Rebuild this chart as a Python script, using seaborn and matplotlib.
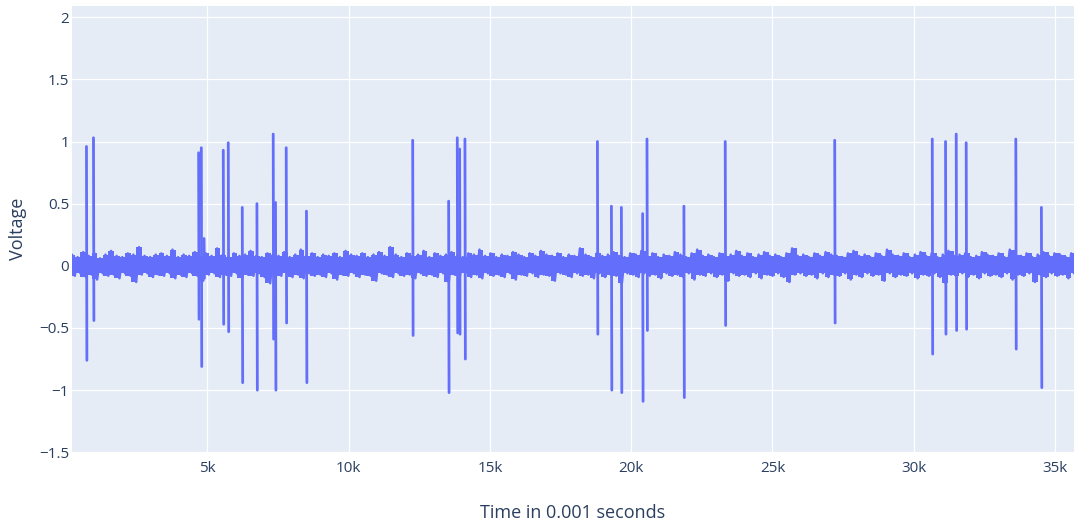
import numpy as np
import pandas as pd
import matplotlib
matplotlib.use("Agg")
import matplotlib.pyplot as plt
import seaborn as sns
from matplotlib.ticker import FuncFormatter

# time window of the recording (in 0.001 s)
T_START = 212
T_END = 35670

# baseline noise, alternating peaks and troughs
noise_hi = [
    0.09, 0.07, 0.11, 0.08, 0.10, 0.06, 0.09, 0.12, 0.08, 0.07, 0.10, 0.09, 0.15, 0.08, 0.07,
    0.09, 0.10, 0.08, 0.13, 0.07, 0.09, 0.08, 0.11, 0.07, 0.10, 0.08, 0.14, 0.09, 0.07, 0.10,
    0.08, 0.09, 0.12, 0.08, 0.07, 0.10, 0.09, 0.08, 0.11, 0.07, 0.09, 0.13, 0.08, 0.10, 0.07,
    0.09, 0.08, 0.10, 0.07, 0.12, 0.09, 0.08, 0.10, 0.07, 0.09, 0.11, 0.08, 0.15, 0.09, 0.07,
    0.10, 0.08, 0.09, 0.12, 0.07, 0.10, 0.08, 0.09, 0.11, 0.08, 0.07, 0.10, 0.09, 0.13, 0.08,
    0.10, 0.07, 0.09, 0.08, 0.11, 0.09, 0.07, 0.10, 0.08, 0.12, 0.09, 0.08, 0.10, 0.07, 0.09,
    0.08, 0.14, 0.09, 0.07, 0.10, 0.08, 0.09, 0.11, 0.08, 0.07, 0.10, 0.09, 0.12, 0.08, 0.10,
    0.07, 0.09, 0.08, 0.11, 0.09, 0.07, 0.10, 0.13, 0.08, 0.09, 0.07, 0.10, 0.08, 0.09, 0.12,
    0.08, 0.10, 0.07, 0.09, 0.11, 0.08, 0.09, 0.07, 0.10, 0.14, 0.08, 0.09, 0.07, 0.10, 0.08,
    0.11, 0.09, 0.08, 0.07, 0.10, 0.12, 0.08, 0.09, 0.07, 0.10, 0.08, 0.13, 0.09, 0.08, 0.10,
    0.07, 0.09, 0.11, 0.08, 0.10, 0.07, 0.09, 0.12, 0.08, 0.09, 0.10, 0.07, 0.08, 0.11, 0.09,
    0.08, 0.10, 0.07, 0.13, 0.09, 0.08, 0.10, 0.07, 0.09, 0.11, 0.08, 0.10, 0.09, 0.07, 0.10,
]
noise_lo = [
    -0.08, -0.06, -0.09, -0.07, -0.11, -0.06, -0.08, -0.07, -0.10, -0.06, -0.08, -0.13, -0.07, -0.06, -0.09,
    -0.07, -0.08, -0.06, -0.10, -0.07, -0.09, -0.06, -0.08, -0.12, -0.07, -0.06, -0.09, -0.07, -0.08, -0.06,
    -0.10, -0.07, -0.08, -0.06, -0.09, -0.14, -0.07, -0.08, -0.06, -0.09, -0.07, -0.10, -0.06, -0.08, -0.07,
    -0.09, -0.06, -0.11, -0.07, -0.08, -0.06, -0.09, -0.07, -0.08, -0.12, -0.06, -0.07, -0.09, -0.06, -0.08,
    -0.07, -0.10, -0.06, -0.08, -0.07, -0.09, -0.06, -0.13, -0.07, -0.08, -0.06, -0.09, -0.07, -0.10, -0.06,
    -0.08, -0.07, -0.09, -0.06, -0.11, -0.07, -0.08, -0.06, -0.09, -0.07, -0.08, -0.12, -0.06, -0.07, -0.09,
    -0.06, -0.08, -0.07, -0.10, -0.06, -0.09, -0.07, -0.08, -0.14, -0.06, -0.07, -0.09, -0.06, -0.08, -0.07,
    -0.10, -0.06, -0.08, -0.07, -0.09, -0.06, -0.11, -0.07, -0.08, -0.06, -0.09, -0.07, -0.12, -0.06, -0.08,
    -0.07, -0.09, -0.06, -0.10, -0.07, -0.08, -0.06, -0.09, -0.13, -0.07, -0.06, -0.08, -0.07, -0.10, -0.06,
    -0.09, -0.07, -0.08, -0.06, -0.11, -0.07, -0.09, -0.06, -0.08, -0.07, -0.12, -0.06, -0.09, -0.07, -0.08,
    -0.06, -0.10, -0.07, -0.08, -0.06, -0.09, -0.14, -0.07, -0.08, -0.06, -0.09, -0.07, -0.10, -0.06, -0.08,
    -0.07, -0.09, -0.06, -0.11, -0.07, -0.08, -0.06, -0.13, -0.07, -0.09, -0.06, -0.08, -0.07, -0.10, -0.06,
]

# spikes: time, positive peak, negative peak
spike_t = [724, 972, 4693, 4788, 4883, 5565, 5742, 6237, 6756, 7332, 7413, 7792, 8509,
           12268, 13540, 13846, 13929, 14117, 18805, 19300, 19653, 20406, 20559, 21866,
           23328, 27202, 30654, 31124, 31502, 31855, 33611, 34516]
spike_hi = [0.96, 1.03, 0.91, 0.95, 0.22, 0.93, 0.99, 0.47, 0.50, 1.06, 0.51, 0.95, 0.44,
            1.01, 0.52, 1.03, 0.94, 1.02, 1.00, 0.48, 0.47, 0.42, 1.02, 0.48,
            1.00, 1.01, 1.02, 1.00, 1.06, 0.99, 1.02, 0.47]
spike_lo = [-0.76, -0.44, -0.43, -0.81, -0.10, -0.47, -0.53, -0.94, -1.00, -0.59, -1.00, -0.46, -0.94,
            -0.56, -1.02, -0.54, -0.55, -0.75, -0.55, -1.00, -1.02, -1.09, -0.52, -1.06,
            -0.48, -0.46, -0.71, -0.55, -0.52, -0.51, -0.67, -0.98]

y_ticks = [-1.5, -1, -0.5, 0, 0.5, 1, 1.5, 2]
x_ticks = [5000, 10000, 15000, 20000, 25000, 30000, 35000]

BG = "#E5ECF6"
LINE = "#636EFA"
TEXT = "#2a3f5f"


def noise_frame():
    noise_v = [v for pair in zip(noise_hi, noise_lo) for v in pair]
    return pd.DataFrame({
        "time": np.linspace(T_START, T_END, len(noise_v)),
        "voltage": noise_v,
    })


def spike_frame():
    # each spike is a near-vertical swing from its peak to its trough
    return pd.DataFrame({
        "spike": list(range(len(spike_t))) * 2,
        "time": spike_t + [t + 15 for t in spike_t],
        "voltage": spike_hi + spike_lo,
    })


sns.set_style("darkgrid", {"axes.facecolor": BG, "grid.color": "white"})
plt.rcParams["font.family"] = ["Open Sans", "DejaVu Sans"]

fig = plt.figure(figsize=(10.74, 5.24), dpi=100)
ax = fig.add_axes([72 / 1074, 71.7 / 524, 1002 / 1074, 446.3 / 524])

# dense noise band: envelope of the baseline samples
band_t = np.linspace(T_START, T_END, len(noise_hi))
ax.fill_between(band_t, noise_lo, noise_hi, step="mid", color=LINE, linewidth=0)

sns.lineplot(data=noise_frame(), x="time", y="voltage", estimator=None,
             color=LINE, linewidth=1.8, ax=ax)
sns.lineplot(data=spike_frame(), x="time", y="voltage", units="spike",
             estimator=None, color=LINE, linewidth=2.0, ax=ax)

ax.set_xlim(T_START, T_END)
ax.set_ylim(-1.5, 2.09)
ax.set_xticks(x_ticks)
ax.set_yticks(y_ticks)
ax.xaxis.set_major_formatter(FuncFormatter(lambda v, p: f"{int(v / 1000)}k"))
ax.yaxis.set_major_formatter(FuncFormatter(lambda v, p: f"{v:g}".replace("-", "\u2212")))
ax.grid(True, color="white", linewidth=0.9)
for s in ax.spines.values():
    s.set_visible(False)
ax.tick_params(axis="both", length=0, labelsize=11, labelcolor=TEXT)
ax.tick_params(axis="x", pad=6)
ax.tick_params(axis="y", pad=2)

ax.set_xlabel("Time in 0.001 seconds", fontsize=13, color=TEXT)
ax.set_ylabel("Voltage", fontsize=13, color=TEXT)
ax.xaxis.set_label_coords(0.5, -0.136)
ax.xaxis.label.set_va("center")
ax.yaxis.set_label_coords(-0.054, 0.5)
ax.yaxis.label.set_va("center")

fig.savefig("out.png", dpi=100)
